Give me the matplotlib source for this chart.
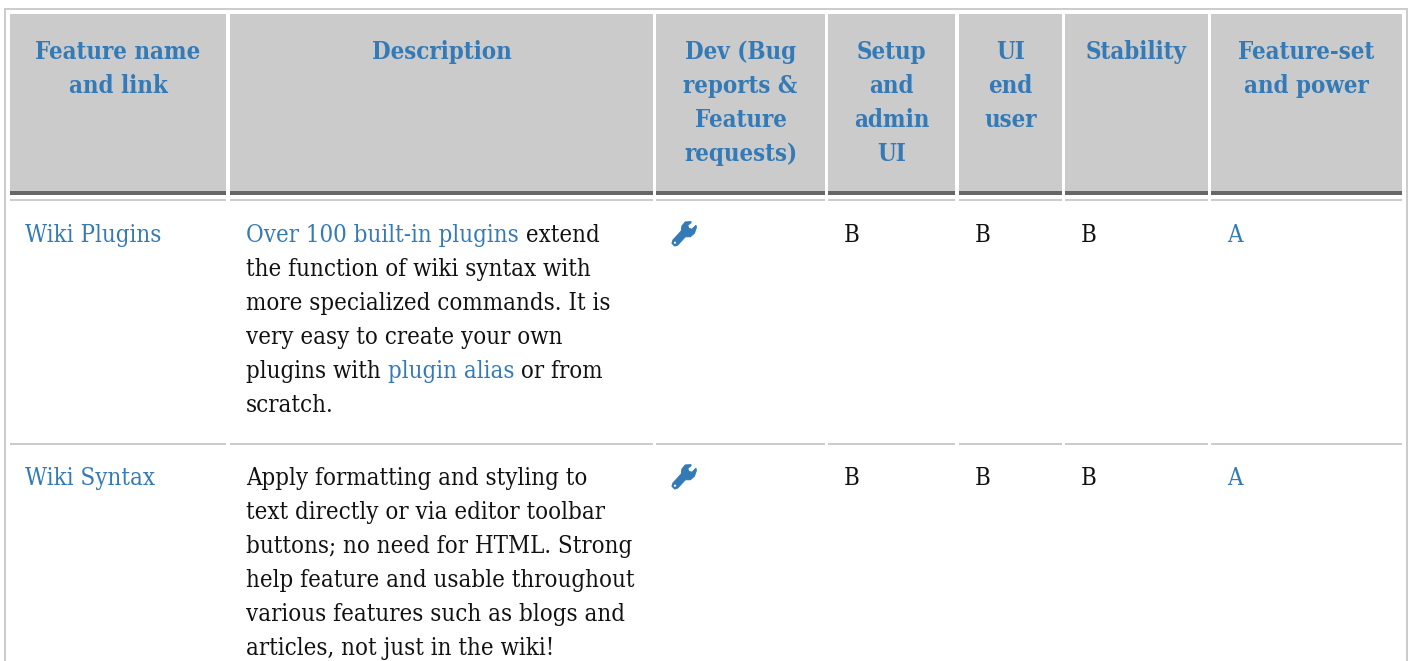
import matplotlib
matplotlib.use("Agg")
import matplotlib.pyplot as plt
from matplotlib.patches import Polygon, Circle, Rectangle

BLUE = "#337ab7"
BLACK = "#111111"

# column edges of the table, in pixels
col_left = [10, 230, 656, 828, 959, 1065, 1211]
col_right = [226, 653, 825, 955, 1062, 1208, 1402]
text_left = [25, 246, 672, 844, 975, 1081, 1227]

headers = [
    ["Feature name", "and link"],
    ["Description"],
    ["Dev (Bug", "reports &", "Feature", "requests)"],
    ["Setup", "and", "admin", "UI"],
    ["UI", "end", "user"],
    ["Stability"],
    ["Feature-set", "and power"],
]

row_names = ["Wiki Plugins", "Wiki Syntax"]
row_top = [234, 477]
setup_grades = ["B", "B"]
ui_grades = ["B", "B"]
stability_grades = ["B", "B"]
power_grades = ["A", "A"]

# each line is a list of (text, is_link) runs
desc_plugins = [
    [("Over 100 built-in plugins", True), (" extend", False)],
    [("the function of wiki syntax with", False)],
    [("more specialized commands. It is", False)],
    [("very easy to create your own", False)],
    [("plugins with ", False), ("plugin alias", True), (" or from", False)],
    [("scratch.", False)],
]
desc_syntax = [
    [("Apply formatting and styling to", False)],
    [("text directly or via editor toolbar", False)],
    [("buttons; no need for HTML. Strong", False)],
    [("help feature and usable throughout", False)],
    [("various features such as blogs and", False)],
    [("articles, not just in the wiki!", False)],
]
descriptions = [desc_plugins, desc_syntax]

# wrench outline, local pixels
wrench = [(19, 0.7), (13.3, 1), (10, 5), (9.3, 10), (1, 19), (0, 22.3), (2.7, 25), (5.7, 24),
          (13.3, 15.7), (18.3, 15.7), (22.3, 12.3), (24.3, 6.7), (24, 4.3), (20, 8.3),
          (16.7, 7.3), (15.7, 4.3), (19, 1.7)]

plt.rcParams["font.family"] = "DejaVu Serif"
plt.rcParams["font.stretch"] = "condensed"
fig = plt.figure(figsize=(14.08, 6.61), dpi=100)
ax = fig.add_axes([0, 0, 1, 1])
ax.set_xlim(0, 1408)
ax.set_ylim(661, 0)
ax.axis("off")

FS = 17.2
LINE = 34


def rect(x0, y0, x1, y1, color):
    ax.add_patch(Rectangle((x0, y0), x1 - x0, y1 - y0, facecolor=color, edgecolor="none"))


def draw_runs(x, y, runs):
    # lay the runs out one after the other on the same baseline
    r = fig.canvas.get_renderer()
    for s, link in runs:
        t = ax.text(x, y, s, fontsize=FS, color=BLUE if link else BLACK,
                    ha="left", va="baseline")
        x += t.get_window_extent(r).width


def draw_wrench(x, y):
    ax.add_patch(Polygon([(x + a, y + b) for a, b in wrench], closed=True,
                         facecolor=BLUE, edgecolor=BLUE, linewidth=0.8))
    ax.add_patch(Circle((x + 3, y + 21.7), 1.1, facecolor="white", edgecolor="none"))


# outer border
rect(4, 8, 1408, 10, "#cccccc")
rect(4, 8, 6, 661, "#cccccc")
rect(1405.5, 8, 1408, 661, "#cccccc")

for i in range(len(col_left)):
    rect(col_left[i], 14, col_right[i], 191, "#cbcbcb")
    rect(col_left[i], 191, col_right[i], 195, "#666666")
    rect(col_left[i], 199, col_right[i], 201, "#cccccc")
    rect(col_left[i], 443, col_right[i], 445, "#cccccc")
    mid = (col_left[i] + col_right[i]) / 2
    for k, line in enumerate(headers[i]):
        ax.text(mid, 59 + k * LINE, line, fontsize=FS, fontweight="bold",
                color=BLUE, ha="center", va="baseline")

for i in range(2):
    base = row_top[i] + 8
    ax.text(text_left[0], base, row_names[i], fontsize=FS, color=BLUE, va="baseline")
    for k, runs in enumerate(descriptions[i]):
        draw_runs(text_left[1], base + k * LINE, runs)
    draw_wrench(text_left[2], row_top[i] - 13)
    ax.text(text_left[3], base, setup_grades[i], fontsize=FS, color=BLACK, va="baseline")
    ax.text(text_left[4], base, ui_grades[i], fontsize=FS, color=BLACK, va="baseline")
    ax.text(text_left[5], base, stability_grades[i], fontsize=FS, color=BLACK, va="baseline")
    ax.text(text_left[6], base, power_grades[i], fontsize=FS, color=BLUE, va="baseline")

fig.savefig("out.png", dpi=100)
